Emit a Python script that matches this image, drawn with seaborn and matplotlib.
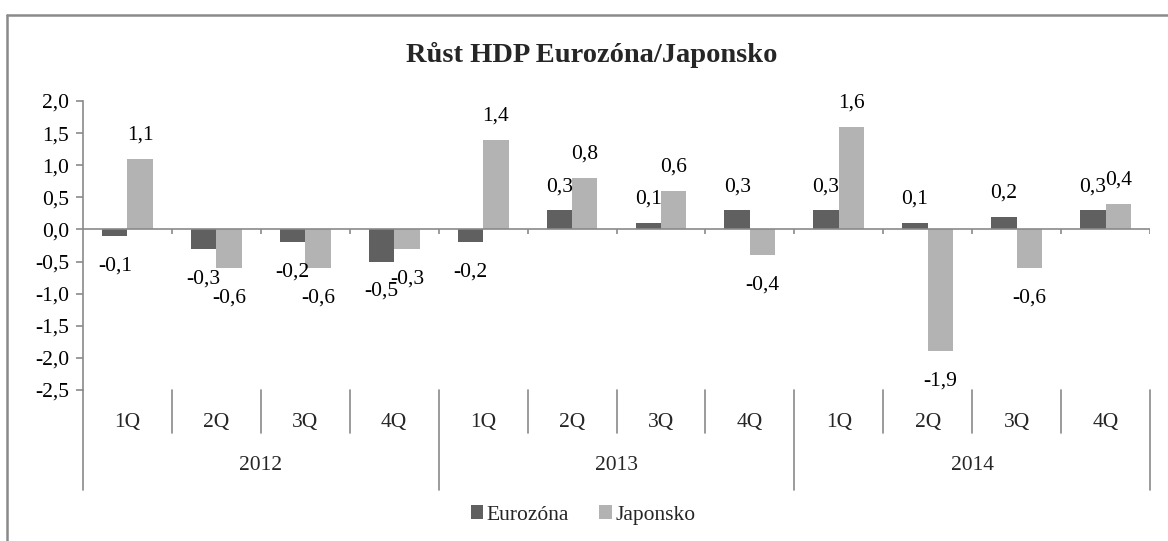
import matplotlib
matplotlib.use("Agg")
import matplotlib.pyplot as plt
import seaborn as sns
import pandas as pd
import numpy as np
from matplotlib.lines import Line2D
from matplotlib.patches import Patch

# ---- data ----
years = ["2012", "2013", "2014"]
quarters = ["1Q", "2Q", "3Q", "4Q"]
eurozona = [-0.1, -0.3, -0.2, -0.5, -0.2, 0.3, 0.1, 0.3, 0.3, 0.1, 0.2, 0.3]
japonsko = [1.1, -0.6, -0.6, -0.3, 1.4, 0.8, 0.6, -0.4, 1.6, -1.9, -0.6, 0.4]
series_names = ["Eurozóna", "Japonsko"]
title = "Růst HDP Eurozóna/Japonsko"
yticks = [-2.5, -2.0, -1.5, -1.0, -0.5, 0.0, 0.5, 1.0, 1.5, 2.0]

colors = ["#606060", "#b3b3b3"]
axis_color = "#8a8a8a"
FS = 15.5

cats = [f"{y} {q}" for y in years for q in quarters]
df = pd.DataFrame({
    "cat": cats * 2,
    "value": eurozona + japonsko,
    "series": [series_names[0]] * len(cats) + [series_names[1]] * len(cats),
})

sns.set_style("white")
plt.rcParams["font.family"] = ["Liberation Serif", "DejaVu Serif"]

W, H = 1168, 541
fig = plt.figure(figsize=(W / 100, H / 100), dpi=100)
ax_left, ax_right = 83 / W, 1150 / W
ax_top, ax_bot = 1 - 101 / H, 1 - 390 / H
ax = fig.add_axes([ax_left, ax_bot, ax_right - ax_left, ax_top - ax_bot])

sns.barplot(data=df, x="cat", y="value", hue="series", order=cats,
            hue_order=series_names, palette=colors, width=0.5714, gap=0,
            saturation=1, ax=ax, legend=False, edgecolor="none")

ax.set_xlim(-0.5, len(cats) - 0.5)
ax.set_ylim(yticks[0], yticks[-1])
ax.set_yticks(yticks)
ax.set_yticklabels([f"{t:.1f}".replace(".", ",") for t in yticks], fontsize=FS)
ax.set_xticks([])
ax.set_xlabel("")
ax.set_ylabel("")
for s in ["top", "right", "bottom"]:
    ax.spines[s].set_visible(False)
ax.spines["left"].set_color(axis_color)
ax.spines["left"].set_linewidth(1.2)
ax.tick_params(axis="y", which="both", left=True, length=5, width=1.2,
               color=axis_color, pad=5, labelcolor="black")

# zero axis line with category boundary ticks
ax.axhline(0, color=axis_color, lw=1.2, zorder=1)
tick_len = 5 / 64
ax.vlines(np.arange(0.5, len(cats) + 0.5, 1.0), -tick_len, 0, color=axis_color, lw=1.2)

# data labels
for cont, vals in zip(ax.containers, [eurozona, japonsko]):
    for rect, v in zip(cont, vals):
        xc = rect.get_x() + rect.get_width() / 2
        off = 17 if v >= 0 else -21.5
        ax.annotate(f"{v:.1f}".replace(".", ","), (xc, v), xytext=(0, off),
                    textcoords="offset points", ha="center", va="center",
                    fontsize=FS, color="black")

# multi-level category labels
trans = ax.get_xaxis_transform()
ax_h_px = 390 - 101
def yax(py):
    return (390 - py) / ax_h_px

for i, c in enumerate(cats):
    ax.text(i, yax(422), quarters[i % 4], transform=trans, ha="center", va="center",
            fontsize=FS, clip_on=False)
for k in range(len(cats) + 1):
    x = k - 0.5
    if k % 4 == 0:
        ax.plot([x, x], [yax(390), yax(490)], transform=trans, color=axis_color,
                lw=1.2, clip_on=False)
    else:
        ax.plot([x, x], [yax(390), yax(433)], transform=trans, color=axis_color,
                lw=1.2, clip_on=False)
for j, y in enumerate(years):
    ax.text(j * 4 + 1.5, yax(465), y, transform=trans, ha="center", va="center",
            fontsize=FS, clip_on=False)

# title
fig.text(592 / W, 1 - 55 / H, title, ha="center", va="center",
         fontsize=20.5, fontweight="bold")

# legend
handles = [Patch(facecolor=colors[0], edgecolor="none"),
           Patch(facecolor=colors[1], edgecolor="none")]
fig.legend(handles, series_names, loc="center", bbox_to_anchor=(583 / W, 1 - 515 / H),
           ncol=2, frameon=False, fontsize=FS, handlelength=0.6, handleheight=0.6,
           handletextpad=0.15, columnspacing=1.4)

# chart border (partially cropped in reference)
fig.add_artist(Line2D([7 / W, 7 / W], [0, 1 - 15 / H], transform=fig.transFigure,
                      color=axis_color, lw=1.8))
fig.add_artist(Line2D([7 / W, 1], [1 - 15 / H, 1 - 15 / H], transform=fig.transFigure,
                      color=axis_color, lw=1.8))

fig.savefig("out.png", dpi=100)
